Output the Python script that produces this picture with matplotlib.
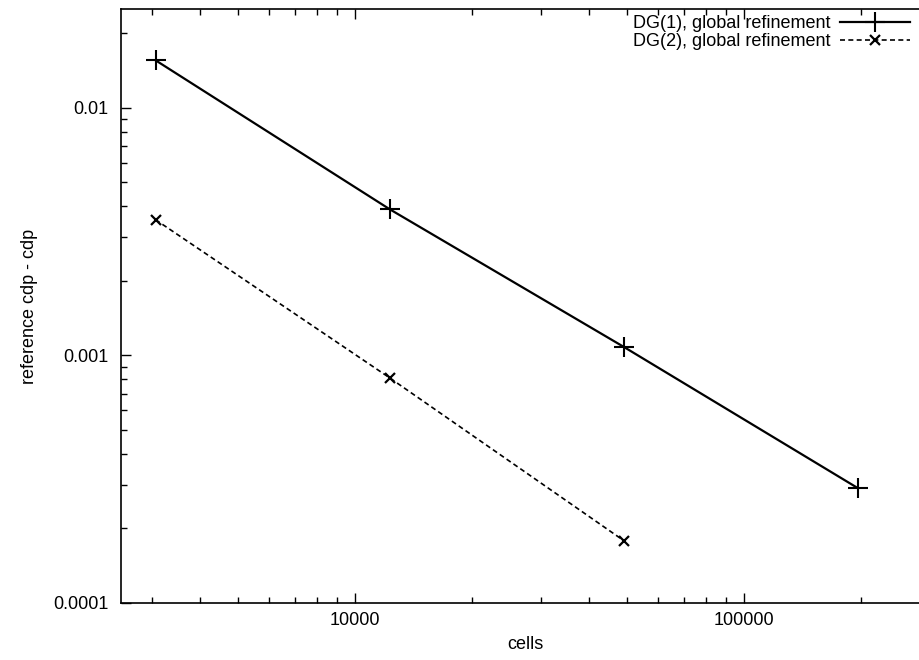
import matplotlib
matplotlib.use("Agg")
import matplotlib.pyplot as plt
from matplotlib.ticker import FixedLocator, FixedFormatter, LogLocator, NullFormatter

plt.rcParams['font.family'] = ['Liberation Sans', 'DejaVu Sans']

cells_dg1 = [3072, 12288, 49152, 196608]
err_dg1 = [0.01556, 0.00389, 0.00108, 0.00029]
cells_dg2 = [3072, 12288, 49152]
err_dg2 = [0.00353, 0.00081, 0.000178]

xticks = [10000, 100000]
xticklabels = ["10000", "100000"]
yticks = [0.0001, 0.001, 0.01]
yticklabels = ["0.0001", "0.001", "0.01"]

fs = 13
fig = plt.figure(figsize=(9.2, 6.6), dpi=100)
ax_w = 808.8
ax = fig.add_axes([120.7 / 920, 57.3 / 660, ax_w / 920, 593.4 / 660])

ax.plot(cells_dg1, err_dg1, color="black", lw=1.6, marker="+", ms=14, mew=1.5,
        label="DG(1), global refinement")
ax.plot(cells_dg2, err_dg2, color="black", lw=1.2, ls=(0, (3, 2)), marker="x",
        ms=7, mew=1.6, label="DG(2), global refinement")

ax.set_xscale("log")
ax.set_yscale("log")
ax.set_xlim(2500, 300000)
ax.set_ylim(0.0001, 0.025)

ax.xaxis.set_major_locator(FixedLocator(xticks))
ax.xaxis.set_major_formatter(FixedFormatter(xticklabels))
ax.yaxis.set_major_locator(FixedLocator(yticks))
ax.yaxis.set_major_formatter(FixedFormatter(yticklabels))
ax.xaxis.set_minor_locator(LogLocator(base=10, subs=range(2, 10)))
ax.yaxis.set_minor_locator(LogLocator(base=10, subs=range(2, 10)))
ax.xaxis.set_minor_formatter(NullFormatter())
ax.yaxis.set_minor_formatter(NullFormatter())

ax.tick_params(which="both", direction="in", top=True, right=True,
               labelsize=fs, width=1.0)
ax.tick_params(axis="y", pad=9)
ax.tick_params(axis="x", pad=7)
ax.tick_params(which="major", length=7)
ax.tick_params(which="minor", length=4)
for s in ax.spines.values():
    s.set_linewidth(1.2)

ax.set_xlabel("cells", fontsize=fs)
ax.set_ylabel("reference cdp - cdp", fontsize=fs)
ax.xaxis.set_label_coords(0.5, (602.7 - 636) / 593.4)
ax.yaxis.set_label_coords((38 - 120.7) / ax_w, 0.5)

ax.legend(loc="upper right", bbox_to_anchor=((910 - 120.7) / ax_w, (602.7 - 15) / 593.4),
          markerfirst=False, frameon=False, fontsize=fs, handlelength=3.9,
          handletextpad=0.5, labelspacing=0.05, borderaxespad=0, borderpad=0)

fig.savefig("out.png", dpi=100)
